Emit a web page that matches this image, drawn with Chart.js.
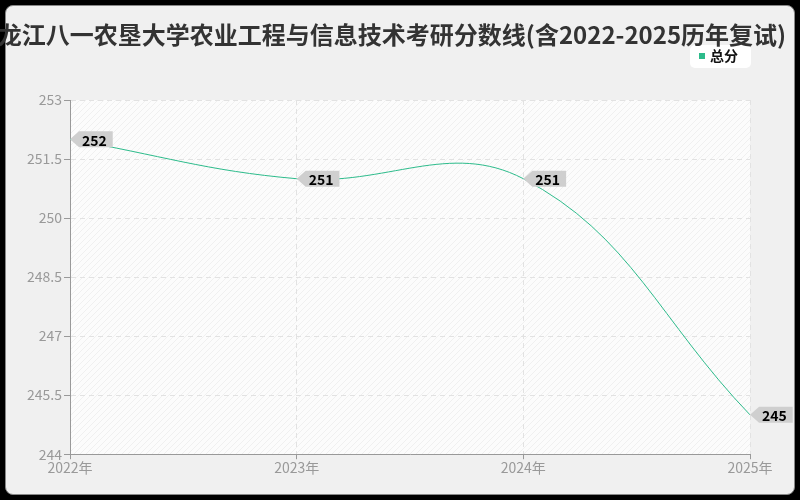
<!DOCTYPE html>
<html>
<head>
<meta charset="utf-8">
<script src="https://cdn.jsdelivr.net/npm/chart.js@4/dist/chart.umd.min.js"></script>
<style>
  html, body { margin: 0; padding: 0; background: #000; }
  #card {
    position: absolute; left: 5px; top: 5px; width: 788px; height: 488px;
    background: #f0f0f0; border: 1px solid #888; border-radius: 8px;
  }
  #wrap { position: absolute; left: 0; top: 0; width: 800px; height: 500px; }
</style>
</head>
<body>
<div id="card"></div>
<div id="wrap"><canvas id="c" width="800" height="500"></canvas></div>
<script>
const titleText = '黑龙江八一农垦大学农业工程与信息技术考研分数线(含2022-2025历年复试)';
const years = ['2022年', '2023年', '2024年', '2025年'];
const totalScores = [252, 251, 251, 245];
const seriesName = '总分';
const yTicks = [244, 245.5, 247, 248.5, 250, 251.5, 253];

const lineColor = '#2dbb8b';
const font = '"Noto Sans CJK SC", "Noto Sans", sans-serif';

// hatched plot background
function makePattern(ctx) {
  const p = document.createElement('canvas');
  p.width = 6; p.height = 6;
  const g = p.getContext('2d');
  g.fillStyle = '#fcfcfc';
  g.fillRect(0, 0, 6, 6);
  g.strokeStyle = '#f0f0f0';
  g.lineWidth = 1;
  g.beginPath();
  g.moveTo(0, 6); g.lineTo(6, 0);
  g.moveTo(-3, 3); g.lineTo(3, -3);
  g.moveTo(3, 9); g.lineTo(9, 3);
  g.stroke();
  return ctx.createPattern(p, 'repeat');
}

const decor = {
  id: 'decor',
  beforeDraw(chart) {
    const { ctx, chartArea: a } = chart;
    ctx.save();
    ctx.fillStyle = makePattern(ctx);
    ctx.fillRect(a.left, a.top, a.right - a.left, a.bottom - a.top);
    ctx.restore();
  },
  afterDraw(chart) {
    const ctx = chart.ctx;
    ctx.save();
    // legend box
    ctx.fillStyle = '#fff';
    ctx.beginPath();
    ctx.roundRect(690, 45, 61, 23, 5);
    ctx.fill();
    ctx.fillStyle = lineColor;
    ctx.fillRect(699, 53, 6, 6);
    ctx.fillStyle = '#111';
    ctx.font = 'bold 14px ' + font;
    ctx.textAlign = 'left';
    ctx.textBaseline = 'middle';
    ctx.fillText(seriesName, 710, 56);

    // title
    ctx.font = 'bold 24px ' + font;
    ctx.fillStyle = '#333';
    ctx.textAlign = 'center';
    ctx.fillText(titleText, 380, 35);

    // value tags
    const meta = chart.getDatasetMeta(0);
    ctx.font = 'bold 14px ' + font;
    meta.data.forEach((pt, i) => {
      const x = pt.x, y = pt.y;
      const txt = String(totalScores[i]);
      const w = ctx.measureText(txt).width + 9;
      ctx.fillStyle = '#cfcfcf';
      ctx.beginPath();
      ctx.moveTo(x, y);
      ctx.lineTo(x + 9, y - 8);
      ctx.lineTo(x + 9 + w, y - 8);
      ctx.lineTo(x + 9 + w, y + 8);
      ctx.lineTo(x + 9, y + 8);
      ctx.closePath();
      ctx.fill();
      ctx.fillStyle = '#000';
      ctx.textAlign = 'left';
      ctx.fillText(txt, x + 12, y + 1);
    });
    ctx.restore();
  }
};

new Chart(document.getElementById('c'), {
  type: 'line',
  data: {
    labels: years,
    datasets: [{
      label: seriesName,
      data: totalScores,
      borderColor: lineColor,
      borderWidth: 1,
      pointRadius: 0,
      tension: 0.4,
      fill: false
    }]
  },
  options: {
    responsive: false,
    animation: false,
    layout: { padding: { left: 0, right: 50, top: 100, bottom: 24 } },
    plugins: {
      legend: { display: false },
      title: { display: false },
      tooltip: { enabled: false }
    },
    scales: {
      x: {
        offset: false,
        grid: { color: '#e2e2e2', tickColor: '#999', tickLength: 5 },
        border: { color: '#999', dash: [5, 4] },
        ticks: { color: '#999', font: { size: 14, family: font }, padding: 0, maxRotation: 0 }
      },
      y: {
        min: 244,
        max: 253,
        afterBuildTicks(axis) { axis.ticks = yTicks.map(v => ({ value: v })); },
        afterFit(axis) { axis.width = 70; },
        grid: { color: '#e2e2e2', tickColor: '#999', tickLength: 6 },
        border: { color: '#999', dash: [5, 4] },
        ticks: { color: '#999', font: { size: 14, family: font }, padding: 2 }
      }
    }
  },
  plugins: [decor]
});
</script>
</body>
</html>
